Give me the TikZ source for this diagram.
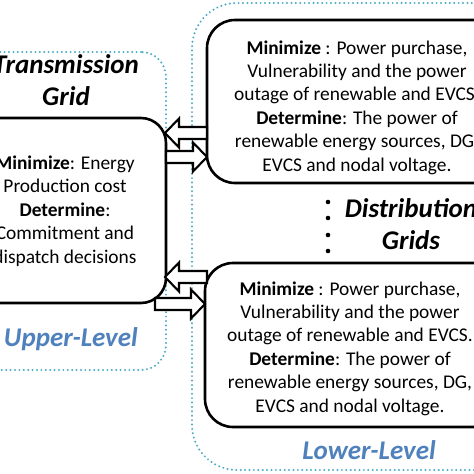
\documentclass[tikz,border=0pt]{standalone}
\usepackage{fontspec}
\setmainfont{Carlito}
\usetikzlibrary{calc}
\definecolor{tealdot}{HTML}{4BACC6}
\definecolor{levelblue}{HTML}{4F81BD}
\tikzset{
  dotregion/.style={draw=tealdot, line width=2.2pt, dash pattern=on 0pt off 4.4pt, line cap=round, rectangle, inner sep=0pt, outer sep=0pt},
  bigbox/.style={draw=black, fill=white, line width=2.6pt, rectangle, inner sep=0pt, outer sep=0pt},
  blkarr/.style={draw=black, fill=white, line width=2.1pt, line join=miter},
  bodytext/.style={align=center, inner sep=0pt, font=\fontsize{19.4}{23.4}\selectfont},
  titletext/.style={align=center, inner sep=0pt, font=\fontsize{27}{32.5}\selectfont\bfseries\itshape},
  leveltext/.style={inner sep=0pt, text=levelblue, font=\fontsize{27}{32}\selectfont\bfseries\itshape},
  dotmark/.style={circle, fill=black, inner sep=0pt, minimum size=4.6pt}
}
\newcommand{\blkarrow}[3]{%
  \pgfmathsetmacro{\hx}{#2-14*sign(#2-#1)}%
  \draw[blkarr] (#1,#3-6) -- (\hx,#3-6) -- (\hx,#3-14.5) -- (#2,#3) -- (\hx,#3+14.5) -- (\hx,#3+6) -- (#1,#3+6) -- cycle;}
\begin{document}
\begin{tikzpicture}[x=1pt,y=-1pt]
\useasboundingbox (0,0) rectangle (474,474);
\clip (0,0) rectangle (474,474);
\fill[white] (0,0) rectangle (474,474);
% level regions
\node[dotregion, rounded corners=25pt, minimum width=206pt, minimum height=318pt] (upper) at (63,211) {};
\node[dotregion, rounded corners=45pt, minimum width=338pt, minimum height=467pt] (lower) at (361,236.5) {};
% boxes
\node[bigbox, rounded corners=25pt, minimum width=202pt, minimum height=185pt] (tg) at (65,210.5) {};
\node[bigbox, rounded corners=28pt, minimum width=313pt, minimum height=163pt] (dtop) at (363.5,101.5) {};
\node[bigbox, rounded corners=28pt, minimum width=315pt, minimum height=164pt] (dbot) at (362.5,345) {};
% arrows between tg and distribution boxes
\blkarrow{207}{165}{133}
\blkarrow{166}{207}{157}
\blkarrow{207}{165}{277}
\blkarrow{155}{205}{304}
% texts
\node[titletext] (tgtitle) at (66,80) {Transmission\\Grid};
\node[bodytext] (tgtext) at (65,211) {\textbf{Minimize}: Energy\\Production cost\\\textbf{Determine}:\\Commitment and\\dispatch decisions};
\node[bodytext] (dtoptext) at (357,107.5) {\textbf{Minimize} : Power purchase,\\Vulnerability and the power\\outage of renewable and EVCS.\\\textbf{Determine}: The power of\\renewable energy sources, DG,\\EVCS and nodal voltage.};
\node[bodytext] (dbottext) at (350,348.5) {\textbf{Minimize} : Power purchase,\\Vulnerability and the power\\outage of renewable and EVCS.\\\textbf{Determine}: The power of\\renewable energy sources, DG,\\EVCS and nodal voltage.};
\node[titletext] (dtitle) at (411,224) {Distribution\\Grids};
\node[leveltext, anchor=east] (uplabel) at (138,339) {Upper-Level};
\node[leveltext] (lowlabel) at (369,450) {Lower-Level};
% vertical dots
\node[dotmark] (d1) at (328,202) {};
\node[dotmark] (d2) at (328,218) {};
\node[dotmark] (d3) at (328,235) {};
\node[dotmark] (d4) at (328,251) {};
\end{tikzpicture}
\end{document}
